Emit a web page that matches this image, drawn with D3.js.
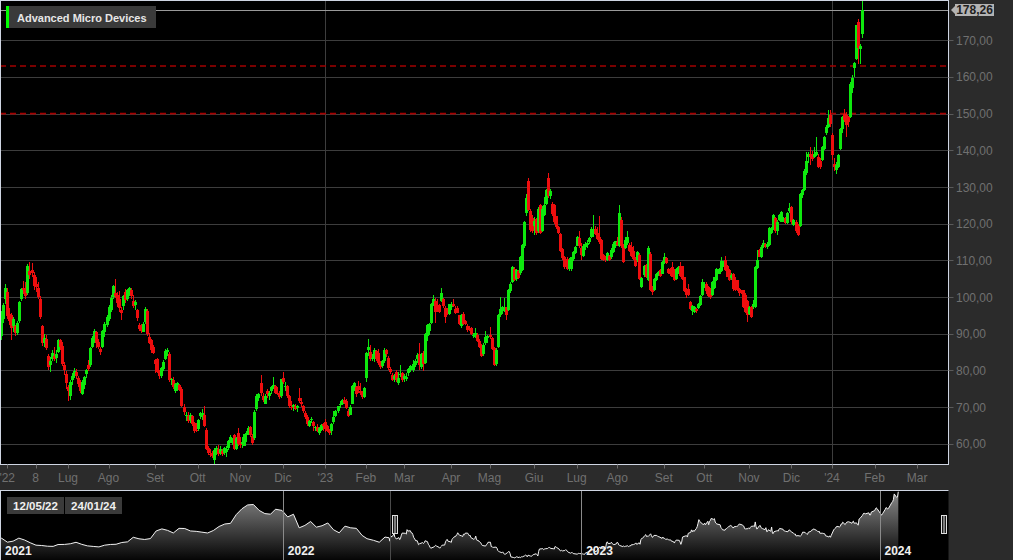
<!DOCTYPE html>
<html><head><meta charset="utf-8">
<script src="https://cdn.jsdelivr.net/npm/d3@7"></script>
<style>
html,body{margin:0;padding:0;background:#2b2b2b;overflow:hidden}
svg{display:block}
text{font-family:"Liberation Sans",Arial,sans-serif}
</style></head><body>
<svg id="c" width="1013" height="560"></svg>
<script>
// ---------------- DATA ----------------
const title = "Advanced Micro Devices";
const startDate = "2022-05-12";
const endAxisDate = "2024-03-29";
const holidays = ["2022-05-30","2022-06-20","2022-07-04","2022-09-05","2022-11-24","2022-12-26",
  "2023-01-02","2023-01-16","2023-02-20","2023-04-07","2023-05-29","2023-06-19","2023-07-04",
  "2023-09-04","2023-11-23","2023-12-25","2024-01-01","2024-01-15"];

const opens = [
 89.0,89.5,94.0,99.5,101.5,95.5,95.0,92.0,92.0,90.2,93.5,99.5,102.5,
 102.5,101.0,107.0,107.5,106.0,103.5,102.5,99.5,92.0,87.5,88.5,84.0,81.5,83.0,84.0,83.5,85.0,88.3,86.8,81.5,79.0,
 75.5,73.0,77.3,78.5,79.5,78.0,76.5,73.5,76.0,79.0,81.5,81.5,86.5,88.5,90.5,87.8,85.8,86.5,90.5,92.5,
 94.0,96.5,100.0,101.0,100.5,99.5,96.5,97.5,101.3,99.5,101.3,102.0,99.0,97.8,96.5,92.5,91.5,90.6,93.2,96.3,89.2,88.2,86.4,
 82.8,83.0,79.5,78.5,80.5,83.0,85.0,84.5,77.5,77.5,74.3,75.5,76.0,75.0,70.0,67.5,67.5,66.5,67.5,65.8,63.8,
 64.0,67.5,67.2,68.0,63.8,58.8,57.2,57.5,55.5,57.6,58.5,57.4,58.0,57.5,57.8,58.8,60.8,60.3,62.5,58.6,63.0,
 60.5,60.0,59.5,62.5,63.0,64.5,62.2,61.5,69.5,72.5,76.5,73.0,71.0,74.5,73.0,74.3,75.5,75.8,73.8,74.0,73.0,
 78.0,75.5,75.8,73.0,70.0,70.0,70.2,69.8,72.5,71.5,70.2,68.5,67.2,65.0,66.5,66.0,64.3,64.5,63.0,63.8,65.5,
 66.0,64.8,63.5,63.5,66.0,67.5,69.0,70.5,70.8,72.0,71.8,69.0,68.0,71.0,75.0,75.5,75.8,74.5,74.0,72.9,
 78.0,85.5,85.0,83.2,83.3,85.3,84.8,82.0,81.3,82.5,85.5,83.5,80.5,78.8,77.8,79.5,76.5,78.8,79.3,
 77.8,77.6,79.2,80.0,80.0,81.5,83.0,84.5,81.0,84.8,82.0,89.5,90.8,93.0,98.0,99.0,97.0,97.8,99.0,99.5,97.0,96.5,95.5,
 97.2,98.0,96.8,97.0,95.0,92.0,95.5,93.5,92.2,91.6,91.5,89.5,89.0,89.7,88.0,86.8,84.5,87.5,88.8,
 89.8,88.8,86.0,81.8,86.5,95.2,96.2,97.0,97.3,96.5,101.8,104.0,107.8,105.0,107.0,106.5,107.5,114.0,122.8,131.6,123.5,121.5,
 119.5,121.2,118.0,125.2,118.0,122.5,125.5,132.5,127.5,125.5,125.0,122.0,119.0,117.3,113.0,110.8,110.5,107.8,107.6,110.3,112.0,
 114.0,116.0,113.5,111.3,113.6,114.2,115.0,116.5,118.0,118.6,117.5,116.5,115.6,111.5,110.8,110.0,111.2,111.0,112.2,114.0,
 115.0,114.0,121.0,114.0,113.5,114.8,114.2,113.7,112.5,110.5,110.0,111.5,102.8,106.0,108.7,104.6,111.8,102.8,102.0,104.8,106.1,107.3,106.4,
 109.3,110.6,107.8,107.8,108.2,107.5,105.0,106.5,108.6,108.4,105.4,102.3,102.2,98.6,96.2,96.0,96.8,96.9,97.8,100.5,
 103.0,103.6,102.7,102.2,100.6,102.4,104.7,106.4,107.0,108.4,110.1,108.6,107.4,105.3,106.3,104.5,104.6,102.2,101.8,101.9,100.6,99.0,
 95.5,97.3,97.3,97.3,108.0,112.8,111.0,113.7,114.5,113.6,114.2,117.6,118.8,121.5,118.0,121.0,120.6,120.6,121.6,120.2,123.5,
 124.5,119.6,120.6,119.5,119.5,127.7,129.2,133.8,138.2,139.1,139.1,138.2,138.8,138.2,137.2,137.3,140.5,144.6,146.4,149.6,
 144.1,136.4,134.6,135.5,140.5,145.9,150.0,149.6,149.0,149.1,157.0,162.5,165.0,175.0,167.6,171.8
];
const highs = [
 89.9,96.3,98.5,103.6,102.5,97.0,95.8,94.5,92.5,93.5,99.0,102.5,104.5,
 104.0,109.0,109.6,109.4,106.8,105.5,104.0,100.2,92.5,90.0,89.8,84.5,83.8,85.5,86.5,85.5,88.5,88.7,87.8,82.2,79.8,
 76.0,77.3,79.3,80.8,80.5,78.5,77.5,77.5,78.5,80.5,82.8,86.5,89.5,91.3,90.8,88.5,86.3,91.0,93.3,95.0,
 97.8,100.5,103.3,105.0,101.5,101.8,97.2,100.7,102.3,102.2,102.8,102.6,100.5,99.3,96.8,93.0,92.6,93.2,97.2,96.8,90.2,88.6,87.0,
 83.2,83.5,80.2,81.0,82.9,85.9,86.0,85.0,78.0,78.3,76.5,76.8,76.3,75.5,70.8,68.6,68.8,68.4,68.0,66.0,65.8,
 66.8,68.8,69.5,70.2,64.2,59.4,58.5,58.0,58.8,59.3,59.8,59.3,58.5,59.2,59.3,61.0,62.4,61.5,62.7,62.0,64.3,
 62.0,62.0,62.8,63.4,64.8,64.8,62.8,69.2,73.5,74.0,78.8,74.0,73.5,75.0,74.5,75.8,78.2,76.0,75.5,74.5,77.8,
 79.6,76.8,76.0,73.2,71.8,71.0,71.0,70.5,75.3,72.5,70.5,68.9,67.8,66.6,67.2,66.2,65.0,65.3,64.7,65.5,65.8,
 66.9,65.2,64.0,65.8,69.0,69.2,70.3,71.7,72.1,72.7,72.3,69.6,70.5,76.0,76.8,75.8,77.1,76.5,74.5,75.5,
 85.0,88.5,87.0,84.5,86.0,85.7,85.8,82.5,82.8,86.0,85.9,84.0,80.9,79.2,79.0,80.0,79.5,81.6,79.6,
 79.0,79.2,80.7,81.5,82.8,83.0,84.8,87.5,84.8,85.2,90.3,92.8,93.0,98.5,100.5,99.8,99.4,98.2,102.4,99.8,97.5,97.0,98.2,
 98.8,99.5,97.5,97.5,95.2,95.5,96.0,93.8,92.6,92.0,91.9,90.2,91.6,90.2,88.5,87.2,87.5,90.9,89.8,
 91.8,89.0,86.5,86.0,95.5,99.9,97.5,99.8,97.4,102.2,104.0,108.5,108.2,107.6,107.5,111.3,114.5,120.8,128.0,132.5,124.0,122.5,
 121.8,121.6,124.5,125.5,124.8,127.4,129.5,133.8,129.4,126.0,125.5,122.2,119.4,117.6,113.5,111.2,111.0,110.6,111.0,112.6,114.0,
 116.6,117.9,114.8,114.6,115.0,115.6,116.4,119.0,122.4,119.5,119.0,122.0,115.8,111.8,111.2,112.4,111.6,113.5,115.0,115.4,
 116.5,125.2,121.8,114.5,116.4,118.0,114.8,115.0,113.9,111.0,112.6,111.9,105.6,108.8,109.0,113.8,112.2,103.0,105.2,106.6,107.0,107.6,109.8,
 112.0,110.8,108.0,108.0,109.6,107.6,108.0,108.5,109.6,108.6,105.6,102.5,103.7,99.0,97.8,97.5,97.1,98.3,100.6,105.0,
 104.2,104.0,102.9,102.4,104.3,105.6,108.0,108.0,111.0,109.8,111.2,108.8,107.6,106.5,106.5,105.4,104.8,102.4,102.0,102.0,101.0,99.3,
 97.6,97.5,99.2,108.6,112.8,113.2,114.2,115.5,114.8,115.0,119.0,119.2,122.6,121.8,121.0,122.6,123.5,121.8,121.8,123.3,125.6,
 124.8,121.4,121.0,119.8,128.5,129.4,134.8,139.6,139.5,141.0,139.8,141.0,143.7,139.0,137.8,141.2,143.8,146.8,151.0,151.0,
 144.6,137.8,136.8,138.9,146.2,149.3,151.2,150.4,149.5,158.5,160.5,164.0,174.3,175.8,169.0,180.6
];
const lows = [
 83.6,88.3,93.0,98.0,94.0,92.5,88.3,90.5,89.5,89.7,93.0,99.0,100.8,
 99.5,100.5,105.0,105.5,102.0,101.5,99.5,94.0,86.8,86.3,85.5,80.2,79.6,82.5,82.5,82.0,84.8,85.5,81.2,78.8,75.0,
 71.6,72.0,76.0,78.0,77.8,75.5,73.8,73.2,75.0,78.0,79.8,81.0,86.0,87.5,86.2,85.8,84.2,86.0,89.0,91.8,
 93.5,96.0,99.5,99.8,97.2,96.0,93.8,96.5,98.5,99.0,100.3,99.5,97.0,96.6,93.6,90.8,90.3,90.4,92.8,89.5,87.2,84.9,84.6,
 79.3,79.2,77.8,78.0,79.8,82.8,84.0,77.0,76.0,75.0,74.0,74.5,74.3,70.0,68.0,66.2,65.8,65.6,64.8,63.0,63.2,
 63.5,66.8,66.5,64.6,58.2,57.0,56.5,56.2,54.6,57.0,56.8,57.0,56.8,57.0,56.5,58.2,60.2,59.8,58.2,58.3,59.5,
 59.0,58.9,59.3,60.5,62.3,61.8,59.8,61.0,69.0,71.8,73.0,71.5,70.8,72.5,72.0,73.5,75.0,73.6,73.2,72.2,72.5,
 76.2,74.3,72.5,69.8,69.3,69.0,69.3,68.6,71.2,70.0,68.3,66.9,65.0,64.5,65.8,63.5,63.6,63.2,62.5,63.5,63.6,
 63.2,63.3,62.5,62.5,65.5,67.2,68.5,69.8,70.6,70.8,69.5,67.2,67.8,70.8,74.5,72.8,74.0,73.2,72.2,72.4,
 77.0,84.0,82.5,82.5,82.2,82.5,81.5,80.5,80.8,82.0,83.8,80.2,79.0,77.2,77.0,76.8,76.0,78.3,77.0,
 76.8,77.2,78.4,79.5,79.6,81.0,82.0,80.0,80.5,79.8,81.8,88.0,89.8,92.6,97.5,93.0,96.0,95.7,98.8,97.0,93.0,95.2,95.2,
 96.6,97.2,95.5,95.6,92.4,91.5,92.5,92.4,90.6,90.8,89.8,88.9,88.9,87.8,86.0,83.8,84.0,87.0,87.5,
 88.5,85.5,81.3,81.2,86.0,94.6,95.4,96.0,93.7,96.2,101.0,103.8,104.5,104.5,104.9,106.0,107.2,113.5,122.0,123.5,117.8,117.5,
 116.9,117.0,117.6,117.2,117.8,122.2,125.2,127.0,126.8,122.2,120.0,118.6,117.2,112.3,110.2,107.8,107.3,107.0,107.2,109.8,111.8,
 113.8,113.5,110.2,111.0,112.8,113.4,114.6,116.0,116.5,117.0,115.6,114.5,110.0,109.8,109.5,109.8,109.8,110.5,112.0,113.4,
 113.8,113.6,113.5,109.2,113.2,114.2,112.2,111.0,110.0,108.2,109.6,104.6,102.4,105.6,105.3,104.4,101.8,100.6,101.7,104.4,105.8,105.5,106.2,
 109.0,109.1,106.4,105.8,105.4,104.3,104.8,106.3,105.4,104.6,101.4,99.8,100.3,96.4,95.0,95.8,95.8,96.7,97.6,100.2,
 102.6,100.8,100.0,99.6,100.3,102.2,104.5,106.2,106.8,108.2,107.0,105.4,104.4,104.8,101.8,101.8,101.8,100.2,100.8,97.0,95.8,93.2,
 95.2,94.2,96.8,97.0,107.6,110.8,110.6,113.4,113.3,113.2,114.0,117.2,118.4,117.6,117.0,120.8,120.4,120.4,120.0,120.0,123.0,
 119.8,119.4,117.6,116.6,119.2,127.0,128.8,133.4,136.5,136.0,137.2,137.8,138.5,135.2,135.0,137.0,140.0,144.2,146.0,146.5,
 137.5,134.5,133.6,135.2,140.2,144.8,147.8,143.7,146.5,148.8,155.6,160.0,164.5,163.6,163.6,170.6
];
const closes = [
 87.4,95.1,97.8,102.6,94.8,93.5,91.5,94.0,90.3,93.0,98.6,102.3,101.9,
 100.4,108.6,106.0,106.6,103.0,102.8,99.9,94.6,87.5,88.9,86.0,81.0,82.5,84.8,83.2,84.5,88.2,86.5,81.8,80.0,76.5,
 74.5,77.0,78.5,79.8,78.5,76.3,74.5,76.8,78.2,80.2,80.3,86.2,88.8,90.8,87.5,86.3,85.0,90.7,92.8,94.5,
 97.2,99.8,102.9,100.3,98.5,97.0,95.8,100.3,99.2,102.0,102.4,100.2,97.6,98.6,94.2,91.3,90.8,92.6,96.8,89.9,87.6,85.6,84.9,
 81.9,79.6,78.4,80.8,82.4,85.4,85.5,77.4,77.6,75.6,76.2,76.5,74.6,70.3,68.6,68.0,66.2,67.8,65.5,63.6,63.4,
 66.5,68.3,68.3,64.9,58.6,57.6,57.0,56.6,58.2,58.8,57.2,58.6,57.3,58.8,58.6,60.7,61.9,61.2,58.7,61.7,60.1,
 59.7,60.6,62.6,63.0,64.3,62.5,60.2,68.8,73.1,73.5,73.8,72.0,73.0,73.5,74.0,75.6,76.0,74.0,73.6,72.8,77.6,
 77.0,75.8,73.0,70.3,69.8,70.6,69.6,70.3,71.8,71.0,68.9,67.4,65.4,66.3,66.8,64.8,64.5,63.6,64.2,65.2,64.8,
 64.0,63.5,63.0,65.5,67.3,68.9,70.2,71.0,72.0,71.2,69.8,67.5,70.0,75.8,76.5,73.5,74.6,73.8,72.7,75.2,
 84.7,86.3,83.0,83.5,85.5,83.0,82.0,81.0,82.6,85.6,84.5,80.6,79.6,77.5,78.6,77.5,78.0,79.0,77.5,
 78.6,78.3,80.5,81.2,81.8,82.6,84.3,81.5,84.5,81.8,89.9,92.5,92.6,98.0,99.5,96.0,96.6,96.0,101.0,97.5,94.5,95.5,98.0,
 98.0,97.6,95.7,95.8,92.6,95.0,92.6,92.6,91.0,91.2,90.0,89.6,90.3,88.0,86.5,84.0,87.0,89.2,89.4,
 89.0,85.9,81.6,85.7,95.0,96.8,97.2,97.4,95.0,101.9,103.6,108.2,104.8,107.3,105.2,110.9,114.2,120.4,127.0,123.8,118.3,118.0,
 120.8,117.6,124.0,117.6,124.0,125.0,129.2,127.5,128.8,122.6,120.4,119.0,117.6,112.6,110.6,108.3,107.6,110.2,110.8,112.3,113.7,
 116.4,113.8,111.5,113.8,114.5,114.8,116.0,118.6,118.7,117.3,115.9,115.0,110.4,110.0,110.4,112.0,110.2,112.8,114.6,115.2,
 114.2,122.8,114.0,109.6,115.6,116.4,112.5,111.3,110.4,108.6,112.2,105.0,105.3,108.5,105.6,113.5,102.0,101.5,104.9,106.3,106.9,105.7,109.5,
 110.8,109.3,106.6,106.2,105.6,104.8,107.7,108.2,105.8,104.9,101.7,100.5,100.6,96.8,97.6,97.3,96.1,98.1,100.4,104.0,
 103.6,101.8,100.3,100.1,104.0,105.4,107.7,107.8,109.9,109.5,107.3,105.6,104.7,106.1,102.1,102.0,102.0,101.1,101.0,97.3,96.0,95.0,
 97.3,94.6,98.2,108.3,110.0,111.0,113.7,114.7,113.6,114.6,118.8,118.9,122.3,117.9,120.6,122.4,123.2,121.5,120.2,122.9,124.2,
 120.4,121.0,117.9,116.9,128.2,129.1,134.5,137.2,139.1,138.2,137.7,139.1,139.5,135.5,135.6,140.9,143.6,146.4,148.7,147.3,
 138.6,135.5,135.9,138.6,145.9,149.1,148.2,146.8,147.6,158.2,159.8,163.8,174.2,167.8,168.5,178.26
];
const lastPrice = 178.26;
const levels = [163.0, 150.0];
const yTicks = [60,70,80,90,100,110,120,130,140,150,160,170];
const xTickLabels = ["'22","8","Lug","Ago","Set","Ott","Nov","Dic","'23","Feb","Mar","Apr","Mag","Giu","Lug","Ago","Set","Ott","Nov","Dic","'24","Feb","Mar"];
const xTickDates = ["2022-05-18","2022-06-08","2022-07-01","2022-08-01","2022-09-01","2022-10-03","2022-11-01","2022-12-01",
  "2023-01-03","2023-02-01","2023-03-01","2023-04-03","2023-05-01","2023-06-01","2023-07-03","2023-08-01","2023-09-01",
  "2023-10-02","2023-11-01","2023-12-01","2024-01-02","2024-02-01","2024-03-01"];
const yearGridDates = ["2023-01-03","2024-01-02"];
// navigator history before the main window (weekly closes)
const navDates = ["2021-01-04","2021-01-08","2021-01-15","2021-01-22","2021-01-29","2021-02-05","2021-02-12","2021-02-19","2021-02-26",
 "2021-03-05","2021-03-12","2021-03-19","2021-03-26","2021-04-01","2021-04-09","2021-04-16","2021-04-23","2021-04-30",
 "2021-05-07","2021-05-14","2021-05-21","2021-05-28","2021-06-04","2021-06-11","2021-06-18","2021-06-25","2021-07-02",
 "2021-07-09","2021-07-16","2021-07-23","2021-07-30","2021-08-06","2021-08-13","2021-08-20","2021-08-27","2021-09-03",
 "2021-09-10","2021-09-17","2021-09-24","2021-10-01","2021-10-08","2021-10-15","2021-10-22","2021-10-29","2021-11-05",
 "2021-11-12","2021-11-19","2021-11-26","2021-12-03","2021-12-10","2021-12-17","2021-12-23","2021-12-31",
 "2022-01-07","2022-01-14","2022-01-21","2022-01-28","2022-02-04","2022-02-11","2022-02-18","2022-02-25","2022-03-04",
 "2022-03-11","2022-03-18","2022-03-25","2022-04-01","2022-04-08","2022-04-14","2022-04-22","2022-04-29","2022-05-06","2022-05-11"];
const navValues = [92.3,93.5,88.2,92.8,85.6,87.5,93.0,89.6,84.5,
 80.1,79.5,78.2,77.9,81.3,81.5,82.7,85.4,81.6,
 78.8,77.8,76.9,80.1,81.4,81.8,85.0,86.2,94.6,
 91.8,90.6,92.2,106.2,110.0,107.3,102.5,111.0,110.7,
 106.2,105.5,104.0,102.5,107.0,114.4,119.0,120.2,136.3,
 147.0,154.0,154.8,144.0,138.1,137.0,146.1,143.9,
 132.0,136.9,112.0,116.4,123.6,113.2,115.8,120.9,108.4,
 102.8,115.0,112.0,111.0,98.0,92.0,89.0,85.5,95.0,93.7];
const navYears = ["2021","2022","2023","2024"];
const rangeLabels = ["12/05/22","24/01/24"];

// ---------------- CHART ----------------
const GREEN = "#0ee80e", RED = "#ee0e0e";
const W = 1013, PW = 948.5, PH = 464.5;
const svg = d3.select("#c");
const parse = d3.timeParse("%Y-%m-%d");
const fmt = d3.timeFormat("%Y-%m-%d");

// trading calendar
const hol = new Set(holidays);
const tradingDays = [];
for (let d = parse(startDate); d <= parse(endAxisDate); d = d3.timeDay.offset(d, 1)) {
  const wd = d.getDay(), s = fmt(d);
  if (wd === 0 || wd === 6 || hol.has(s)) continue;
  tradingDays.push(s);
}
const dayIndex = new Map(tradingDays.map((s, i) => [s, i]));

const x = d3.scaleLinear().domain([0, 453]).range([-0.9, 917.1]);
const y = d3.scaleLinear().domain([54.38, 180.98]).range([PH, 0]);

const defs = svg.append("defs");
defs.append("clipPath").attr("id", "plotClip").append("rect")
  .attr("x", 0.5).attr("y", 0.5).attr("width", PW - 0.5).attr("height", PH - 0.5);
defs.append("clipPath").attr("id", "navClip").append("rect")
  .attr("x", 0.5).attr("y", 491).attr("width", PW - 0.5).attr("height", 69);
const grad = defs.append("linearGradient").attr("id", "navGrad")
  .attr("gradientUnits", "userSpaceOnUse").attr("x1", 0).attr("y1", 491).attr("x2", 0).attr("y2", 560);
grad.append("stop").attr("offset", 0).attr("stop-color", "#8c8c8c");
grad.append("stop").attr("offset", 1).attr("stop-color", "#050505");

// plot background
svg.append("rect").attr("x", 0).attr("y", 0).attr("width", PW).attr("height", PH).attr("fill", "#000");

const plot = svg.append("g").attr("clip-path", "url(#plotClip)");
// horizontal grid
plot.selectAll("line.hg").data(yTicks).join("line")
  .attr("x1", 0).attr("x2", PW).attr("y1", d => Math.round(y(d)) + 0.5).attr("y2", d => Math.round(y(d)) + 0.5)
  .attr("stroke", "#3d3d3d").attr("stroke-width", 1);
// vertical year grid
plot.selectAll("line.vg").data(yearGridDates).join("line")
  .attr("x1", d => Math.round(x(dayIndex.get(d))) + 0.5).attr("x2", d => Math.round(x(dayIndex.get(d))) + 0.5)
  .attr("y1", 0).attr("y2", PH).attr("stroke", "#3d3d3d");
// last price line
plot.append("line").attr("x1", 0).attr("x2", PW)
  .attr("y1", Math.round(y(lastPrice)) + 0.5).attr("y2", Math.round(y(lastPrice)) + 0.5)
  .attr("stroke", "#9a9a9a");
// level lines
plot.selectAll("line.lv").data(levels).join("line")
  .attr("x1", 0).attr("x2", PW).attr("y1", d => y(d)).attr("y2", d => y(d))
  .attr("stroke", "#a30000").attr("stroke-width", 1.6).attr("stroke-dasharray", "6,4");

// candles
const candles = closes.map((c, i) => ({
  i, o: opens[i], c,
  h: Math.max(highs[i], opens[i], c), l: Math.min(lows[i], opens[i], c)
}));
const cg = plot.append("g").attr("shape-rendering", "crispEdges");
const cand = cg.selectAll("g").data(candles).join("g")
  .attr("fill", d => d.c >= d.o ? GREEN : RED);
cand.append("rect")
  .attr("x", d => Math.round(x(d.i)))
  .attr("width", 1)
  .attr("y", d => Math.round(y(d.h)))
  .attr("height", d => Math.max(1, Math.round(y(d.l)) - Math.round(y(d.h))));
cand.append("rect")
  .attr("x", d => Math.round(x(d.i)) - 1)
  .attr("width", 3)
  .attr("y", d => Math.round(y(Math.max(d.o, d.c))))
  .attr("height", d => Math.max(1, Math.round(y(Math.min(d.o, d.c))) - Math.round(y(Math.max(d.o, d.c)))));

// legend
svg.append("rect").attr("x", 6).attr("y", 6).attr("width", 150).attr("height", 22).attr("fill", "#3a3a3a");
svg.append("rect").attr("x", 6).attr("y", 6).attr("width", 3).attr("height", 22).attr("fill", "#00ff00");
svg.append("text").attr("x", 17).attr("y", 21.5).attr("fill", "#e6e6e6")
  .attr("font-size", 11).attr("font-weight", "bold").text(title);

// plot border
svg.append("rect").attr("x", 0.5).attr("y", 0.5).attr("width", PW - 0.5).attr("height", PH - 0.5)
  .attr("fill", "none").attr("stroke", "#cfd5e2").attr("stroke-width", 1);

// y axis
const comma = v => d3.format(".2f")(v).replace(".", ",");
const ya = svg.append("g");
ya.selectAll("line").data(yTicks).join("line")
  .attr("x1", PW).attr("x2", PW + 5).attr("y1", d => Math.round(y(d)) + 0.5).attr("y2", d => Math.round(y(d)) + 0.5)
  .attr("stroke", "#5a5a5a");
ya.selectAll("text").data(yTicks).join("text")
  .attr("x", 956).attr("y", d => y(d) + 4.5).attr("fill", "#707070").attr("font-size", 12)
  .text(d => comma(d));
// last price label
const ly = y(lastPrice);
svg.append("path")
  .attr("d", `M951,${ly} L955,${ly - 4} L955,${ly - 6} L994,${ly - 6} L994,${ly + 6} L955,${ly + 6} L955,${ly + 4} Z`)
  .attr("fill", "#b3b3b3");
svg.append("text").attr("x", 974.5).attr("y", ly + 4.3).attr("text-anchor", "middle")
  .attr("fill", "#1e1e1e").attr("font-size", 12).attr("font-weight", "bold").text(comma(lastPrice));

// x axis
const xa = svg.append("g");
const xt = xTickDates.map((d, k) => ({ label: xTickLabels[k], px: x(dayIndex.get(d)) }));
xa.selectAll("line").data(xt).join("line")
  .attr("x1", d => Math.round(d.px) + 0.5).attr("x2", d => Math.round(d.px) + 0.5)
  .attr("y1", PH).attr("y2", PH + 4).attr("stroke", "#6a6a6a");
xa.selectAll("text").data(xt).join("text")
  .attr("x", d => d.px).attr("y", 481.5).attr("text-anchor", "middle")
  .attr("fill", "#707070").attr("font-size", 12).text(d => d.label);

// ---------------- NAVIGATOR ----------------
const nx = d3.scaleTime().domain([parse("2021-01-01"), parse("2024-01-01")]).range([-15.5, 879.5]);
const ny = d3.scaleLinear().domain([56, 178.3]).range([558.3, 491.7]);
svg.append("rect").attr("x", 0).attr("y", 490.5).attr("width", PW).attr("height", 70).attr("fill", "#000");
const navSeries = navDates.map((d, i) => ({ t: parse(d), v: navValues[i] }))
  .concat(closes.map((c, i) => ({ t: parse(tradingDays[i]), v: c })));
const ng = svg.append("g").attr("clip-path", "url(#navClip)");
ng.append("path").datum(navSeries)
  .attr("d", d3.area().x(d => nx(d.t)).y0(561).y1(d => ny(d.v)))
  .attr("fill", "url(#navGrad)");
ng.append("path").datum(navSeries)
  .attr("d", d3.line().x(d => nx(d.t)).y(d => ny(d.v)))
  .attr("fill", "none").attr("stroke", "#f2f2f2").attr("stroke-width", 1);
// year lines & labels
ng.selectAll("line.yr").data(navYears.slice(1)).join("line")
  .attr("x1", d => Math.round(nx(parse(d + "-01-01"))) + 0.5).attr("x2", d => Math.round(nx(parse(d + "-01-01"))) + 0.5)
  .attr("y1", 491).attr("y2", 560).attr("stroke", "#8a8a8a");
const selX = Math.round(nx(parse(startDate))) + 0.5;
ng.append("line").attr("x1", selX).attr("x2", selX).attr("y1", 491).attr("y2", 560).attr("stroke", "#4a4a4a");
svg.selectAll("text.yr").data(navYears).join("text")
  .attr("x", d => Math.max(5, nx(parse(d + "-01-01")) + 5)).attr("y", 555)
  .attr("fill", "#f0f0f0").attr("font-size", 12).attr("font-weight", "bold").text(d => d);
// handles
[selX + 2, 941.5].forEach(hx => {
  svg.append("rect").attr("x", hx).attr("y", 515.5).attr("width", 5).attr("height", 18)
    .attr("fill", "#1a1a1a").attr("stroke", "#e0e0e0");
  svg.append("line").attr("x1", hx + 2.5).attr("x2", hx + 2.5).attr("y1", 515.5).attr("y2", 533.5).attr("stroke", "#e0e0e0");
});
// range labels
rangeLabels.forEach((t, k) => {
  svg.append("rect").attr("x", 7 + k * 58).attr("y", 497).attr("width", 57).attr("height", 17).attr("fill", "#3a3a3a");
  svg.append("text").attr("x", 35.5 + k * 58).attr("y", 510).attr("text-anchor", "middle")
    .attr("fill", "#f0f0f0").attr("font-size", 11.5).attr("font-weight", "bold").text(t);
});
// navigator top border
svg.append("line").attr("x1", 0).attr("x2", PW).attr("y1", 490.5).attr("y2", 490.5).attr("stroke", "#cfd5e2");
svg.append("line").attr("x1", 0.5).attr("x2", 0.5).attr("y1", 490.5).attr("y2", 560).attr("stroke", "#cfd5e2");
</script>
</body></html>
